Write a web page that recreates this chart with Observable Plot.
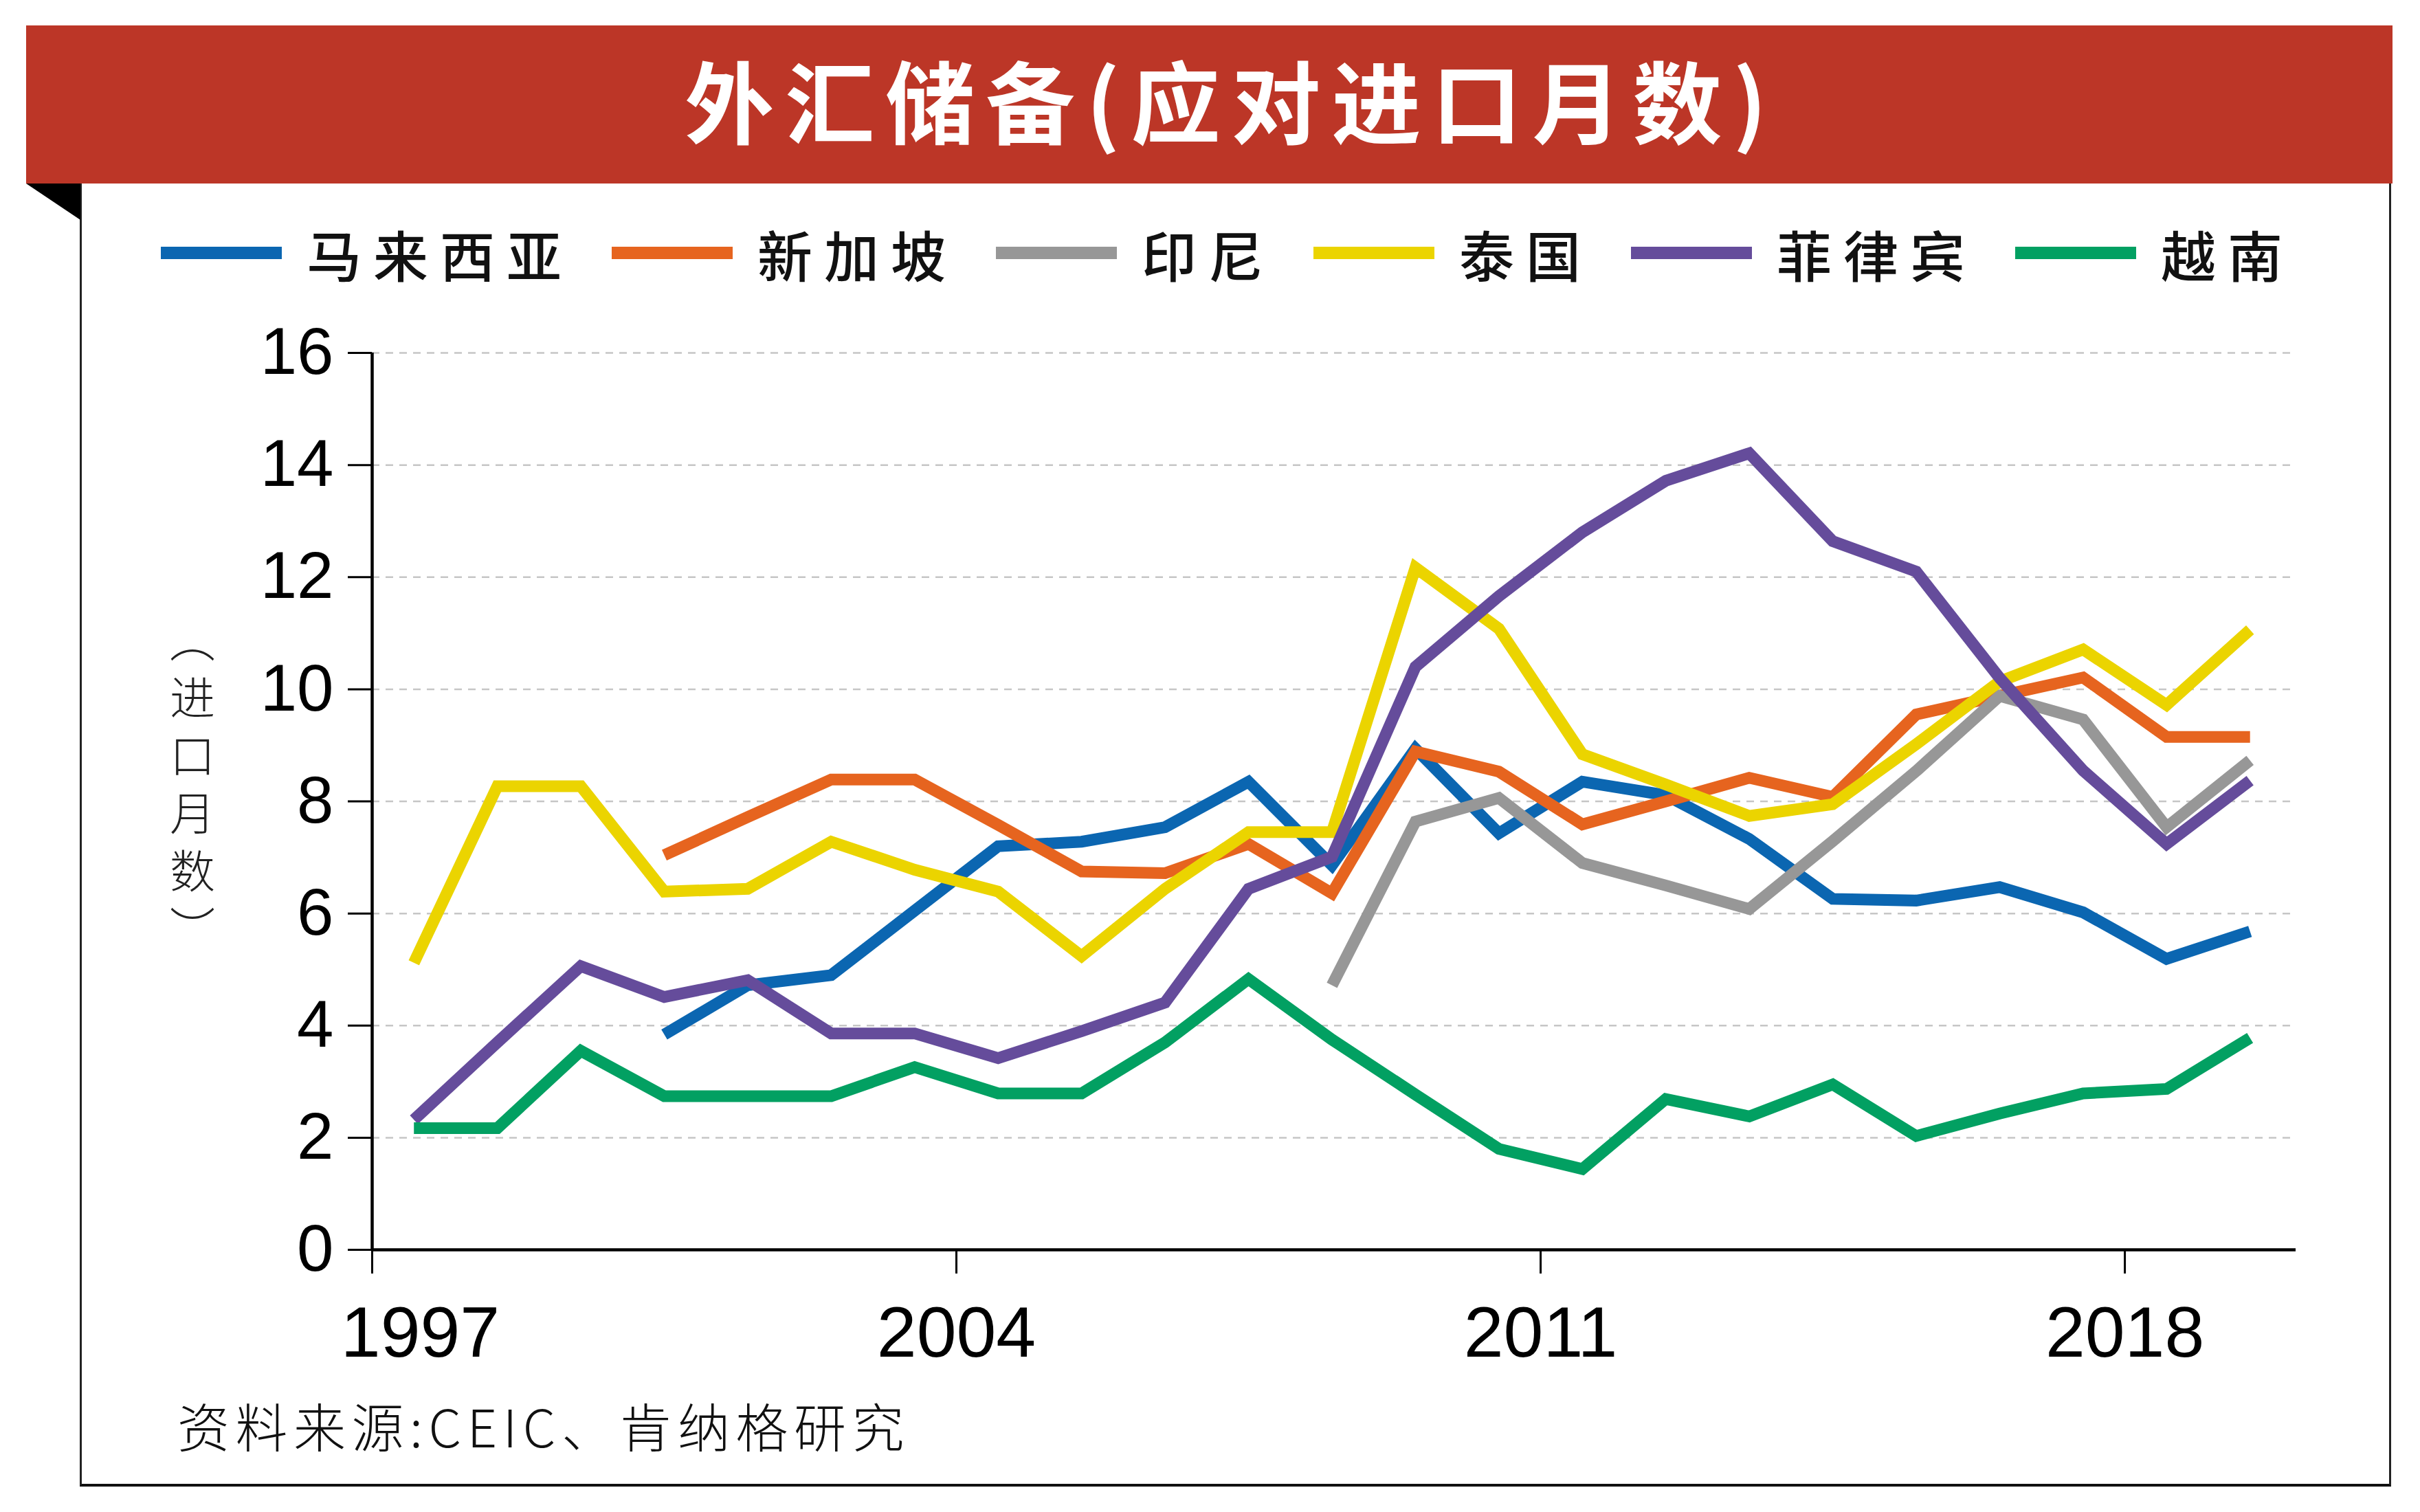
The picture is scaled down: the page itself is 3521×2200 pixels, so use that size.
<!DOCTYPE html>
<html><head><meta charset="utf-8">
<script src="https://cdn.jsdelivr.net/npm/d3@7"></script>
<script src="https://cdn.jsdelivr.net/npm/@observablehq/plot@0.6"></script>
<style>
html,body{margin:0;padding:0;background:#fff;}
#wrap{position:relative;width:3521px;height:2200px;overflow:hidden;background:#fff;font-family:"Noto Sans CJK SC","Noto Sans",sans-serif;}
#bar{position:absolute;left:38px;top:37px;width:3443px;height:230px;background:#BC3627;}
#title{position:absolute;left:70px;width:3443px;top:37px;height:210px;display:flex;align-items:center;justify-content:center;color:#fff;font-weight:700;font-size:130px;letter-spacing:16px;line-height:1;white-space:nowrap;}
#fold{position:absolute;left:38px;top:267px;width:79px;height:53px;background:#000;clip-path:polygon(0 0,100% 0,100% 100%);}
#frame{position:absolute;left:116px;top:267px;width:3363px;height:1896px;border-left:3px solid #222;border-right:3px solid #222;border-bottom:4px solid #111;box-sizing:border-box;}
#legend{position:absolute;left:234px;top:328px;height:80px;display:flex;align-items:center;white-space:nowrap;}
.item{display:flex;align-items:center;margin-right:56px;}
.sw{width:176px;height:18px;margin-right:36px;}
.lab{font-size:80px;letter-spacing:17px;color:#111;font-weight:500;line-height:1;}
#ylab{position:absolute;left:247px;top:1150px;transform:translateY(-50%);writing-mode:vertical-rl;font-size:66px;letter-spacing:18px;font-weight:300;color:#222;line-height:1;}
#cap{position:absolute;left:258px;top:2035px;font-size:76px;letter-spacing:8.5px;font-weight:300;color:#111;line-height:1;white-space:nowrap;}
#chart{position:absolute;left:0;top:0;}
</style></head><body>
<div id="wrap">
  <div id="frame"></div>
  <div id="bar"></div>
  <div id="title">外汇储备(应对进口月数)</div>
  <div id="fold"></div>
  <div id="legend"></div>
  <div id="ylab">（进口月数）</div>
  <div id="chart"></div>
  <div id="cap">资料来源:CEIC、肯纳格研究</div>
</div>
<script>
const years = [1997,1998,1999,2000,2001,2002,2003,2004,2005,2006,2007,2008,2009,2010,2011,2012,2013,2014,2015,2016,2017,2018,2019];
const xTicks = [1997, 2004, 2011, 2018];
const yTicks = [0, 2, 4, 6, 8, 10, 12, 14, 16];
const names = ["马来西亚", "新加坡", "印尼", "泰国", "菲律宾", "越南"];
const colors = ["#0B66B1", "#E6641F", "#979797", "#EBD400", "#654C9B", "#02A062"];

const malaysia    = [null,null,null,3.84,4.72,4.9,6.05,7.2,7.28,7.54,8.35,6.86,8.94,7.43,8.35,8.11,7.33,6.26,6.23,6.47,6.02,5.19,5.68];
const singapore   = [null,null,null,7.04,7.72,8.39,8.39,7.58,6.75,6.72,7.24,6.36,8.89,8.53,7.59,8.0,8.42,8.08,9.55,9.88,10.21,9.15,9.15];
const indonesia   = [null,null,null,null,null,null,null,null,null,null,null,4.72,7.64,8.06,6.9,6.5,6.08,7.29,8.54,9.88,9.46,7.54,8.73];
const thailand    = [5.12,8.27,8.27,6.39,6.44,7.28,6.78,6.39,5.24,6.44,7.45,7.45,12.17,11.08,8.84,8.3,7.74,7.95,9.02,10.14,10.71,9.72,11.06];
const philippines = [2.32,3.7,5.06,4.51,4.81,3.86,3.86,3.42,3.9,4.41,6.44,7.01,10.4,11.66,12.8,13.72,14.21,12.64,12.1,10.2,8.55,7.24,8.37];
const vietnam     = [2.17,2.17,3.55,2.74,2.74,2.74,3.26,2.79,2.79,3.7,4.83,3.75,2.77,1.8,1.44,2.69,2.38,2.95,2.03,2.43,2.79,2.87,3.78];

const seriesValues = [malaysia, singapore, indonesia, thailand, philippines, vietnam];
const rows = names.flatMap((n, i) => years.map((yr, j) => ({name: n, year: yr, value: seriesValues[i][j]})));

// legend
const legend = document.getElementById("legend");
names.forEach((n, i) => {
  const item = document.createElement("div");
  item.className = "item";
  const sw = document.createElement("div");
  sw.className = "sw";
  sw.style.background = colors[i];
  const lab = document.createElement("span");
  lab.className = "lab";
  lab.textContent = n;
  item.appendChild(sw);
  item.appendChild(lab);
  legend.appendChild(item);
});

const chart = Plot.plot({
  width: 3521,
  height: 2200,
  marginLeft: 541,
  marginRight: 181,
  marginTop: 513,
  marginBottom: 382,
  x: {domain: [1997, 2020.05]},
  y: {domain: [0, 16]},
  color: {domain: names, range: colors},
  style: {fontFamily: "'Liberation Sans', Arial, sans-serif", background: "transparent", overflow: "visible", maxWidth: "none"},
  marks: [
    Plot.gridY(yTicks.filter(d => d > 0), {stroke: "#c6c6c6", strokeOpacity: 1, strokeWidth: 2.5, strokeDasharray: "11,9"}),
    Plot.axisY(yTicks, {tickSize: 35, tickPadding: 21, fontSize: 96, strokeWidth: 3, tickFormat: d => String(d), label: null}),
    Plot.axisX(xTicks, {tickSize: 35, tickFormat: () => "", strokeWidth: 3, label: null}),
    Plot.ruleX([1997], {y1: 0, y2: 16, strokeWidth: 4.5}),
    Plot.ruleY([0], {strokeWidth: 4.5}),
    ...names.map(n => Plot.line(rows.filter(r => r.name === n), {
      x: d => d.year + 0.5, y: "value", stroke: "name",
      strokeWidth: 17, strokeLinejoin: "miter", strokeLinecap: "butt", strokeMiterlimit: 4
    })),
    Plot.text(xTicks.slice(1), {x: d => d, text: d => String(d), frameAnchor: "bottom", dy: 122, fontSize: 104, lineAnchor: "middle", fill: "#000"}),
    Plot.text(xTicks.slice(0, 1), {x: d => d, text: d => String(d), frameAnchor: "bottom", dx: 70, dy: 122, fontSize: 104, lineAnchor: "middle", fill: "#000"})
  ]
});
document.getElementById("chart").appendChild(chart);
</script>
</body></html>
